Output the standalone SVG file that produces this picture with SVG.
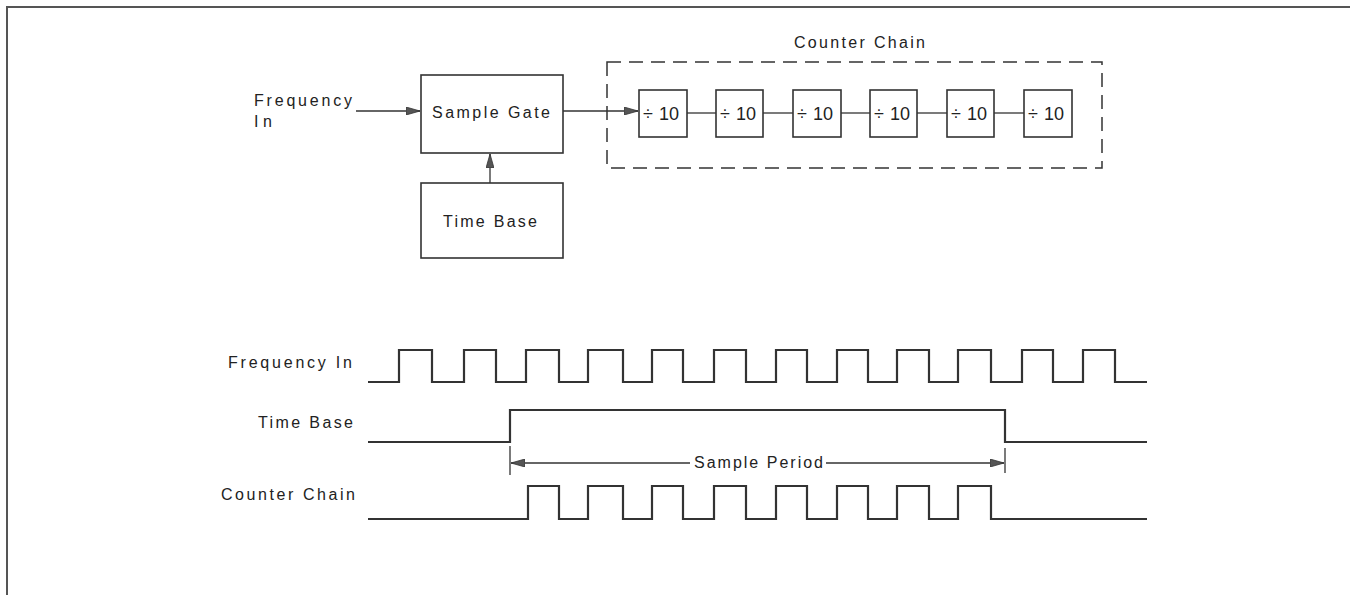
<svg xmlns="http://www.w3.org/2000/svg" width="1350" height="595" viewBox="0 0 1350 595">
<defs>
<style>
.t{font-family:"Liberation Sans",Arial,sans-serif;font-size:16px;fill:#222;}
.d{font-family:"Liberation Sans",Arial,sans-serif;font-size:18px;fill:#222;}
.box{fill:none;stroke:#333;stroke-width:1.6;}
.ln{fill:none;stroke:#333;stroke-width:1.3;}
.wv{fill:none;stroke:#333;stroke-width:2.2;stroke-linejoin:miter;}
</style>
<marker id="ah" viewBox="0 0 14 8" refX="14" refY="4" markerWidth="14" markerHeight="8" markerUnits="userSpaceOnUse" orient="auto">
<path d="M0,0 L14,4 L0,8 Z" fill="#555" stroke="#333" stroke-width="0.8"/>
</marker>
</defs>
<rect width="1350" height="595" fill="#fff"/>
<g id="frame"><path d="M7,595 V7 H1350" fill="none" stroke="#555" stroke-width="2"/></g>

<g id="freq-in-label"><text class="t" x="254" y="106" textLength="98" lengthAdjust="spacing">Frequency</text><text class="t" x="254" y="127" textLength="18" lengthAdjust="spacing">In</text></g>
<g id="sample-gate"><rect class="box" x="421" y="75" width="142" height="78"/><text class="t" x="432" y="118" textLength="118" lengthAdjust="spacing">Sample Gate</text></g>
<g id="time-base"><rect class="box" x="421" y="183" width="142" height="75"/><text class="t" x="443" y="227" textLength="94" lengthAdjust="spacing">Time Base</text></g>
<g id="counter-chain"><rect x="607" y="62" width="495" height="106" fill="none" stroke="#333" stroke-width="1.5" stroke-dasharray="14,8"/><text class="t" x="794" y="48" textLength="131" lengthAdjust="spacing">Counter Chain</text></g>
<g id="div1"><rect class="box" x="639" y="90" width="48" height="47"/><text class="d" x="643" y="120">÷<tspan dx="6">10</tspan></text></g>
<g id="div2"><rect class="box" x="716" y="90" width="47" height="47"/><text class="d" x="720" y="120">÷<tspan dx="6">10</tspan></text></g>
<g id="div3"><rect class="box" x="793" y="90" width="48" height="47"/><text class="d" x="797" y="120">÷<tspan dx="6">10</tspan></text></g>
<g id="div4"><rect class="box" x="870" y="90" width="47" height="47"/><text class="d" x="874" y="120">÷<tspan dx="6">10</tspan></text></g>
<g id="div5"><rect class="box" x="947" y="90" width="47" height="47"/><text class="d" x="951" y="120">÷<tspan dx="6">10</tspan></text></g>
<g id="div6"><rect class="box" x="1024" y="90" width="48" height="47"/><text class="d" x="1028" y="120">÷<tspan dx="6">10</tspan></text></g>

<g id="connectors">
<line class="ln" x1="356" y1="111" x2="420" y2="111" marker-end="url(#ah)"/>
<line class="ln" x1="490" y1="183" x2="490" y2="154" marker-end="url(#ah)"/>
<line class="ln" x1="563" y1="111" x2="638" y2="111" marker-end="url(#ah)"/>
<line class="ln" x1="687" y1="113" x2="716" y2="113"/>
<line class="ln" x1="763" y1="113" x2="793" y2="113"/>
<line class="ln" x1="841" y1="113" x2="870" y2="113"/>
<line class="ln" x1="917" y1="113" x2="947" y2="113"/>
<line class="ln" x1="994" y1="113" x2="1024" y2="113"/>
</g>

<g id="timing">
<text class="t" x="228" y="368" textLength="124" lengthAdjust="spacing">Frequency In</text>
<text class="t" x="258" y="428" textLength="95" lengthAdjust="spacing">Time Base</text>
<text class="t" x="221" y="500" textLength="134" lengthAdjust="spacing">Counter Chain</text>
<path class="wv" d="M368,382 H399 V350 H432 V382 H464 V350 H496 V382 H526 V350 H559 V382 H588 V350 H623 V382 H652 V350 H683 V382 H714 V350 H746 V382 H776 V350 H807 V382 H837 V350 H868 V382 H897 V350 H929 V382 H958 V350 H991 V382 H1022 V350 H1053 V382 H1083 V350 H1115 V382 H1147"/>
<path class="wv" d="M368,442 H510 V410 H1005 V442 H1147"/>
<path class="wv" d="M368,519 H528 V486 H559 V519 H588 V486 H623 V519 H652 V486 H683 V519 H714 V486 H746 V519 H776 V486 H807 V519 H837 V486 H868 V519 H897 V486 H929 V519 H958 V486 H991 V519 H1147"/>
<line class="ln" x1="510" y1="446" x2="510" y2="475"/>
<line class="ln" x1="1005" y1="448" x2="1005" y2="473"/>
<line class="ln" x1="690" y1="463" x2="511" y2="463" marker-end="url(#ah)"/>
<line class="ln" x1="826" y1="463" x2="1004" y2="463" marker-end="url(#ah)"/>
<text class="t" x="694" y="468" textLength="129" lengthAdjust="spacing">Sample Period</text>
</g>
</svg>
